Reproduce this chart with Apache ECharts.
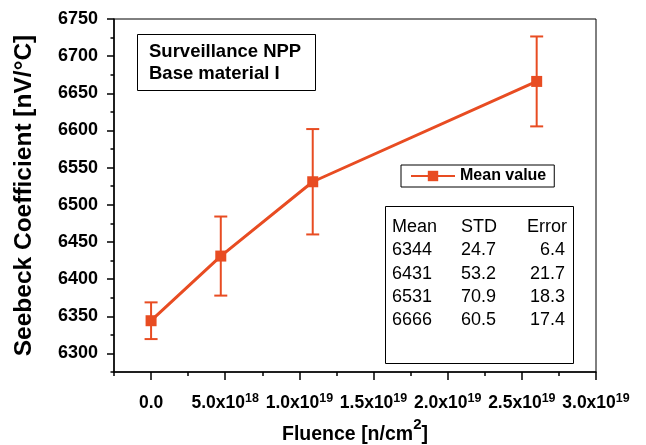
<!DOCTYPE html>
<html>
<head>
<meta charset="utf-8">
<script src="https://cdn.jsdelivr.net/npm/echarts@6/dist/echarts.min.js"></script>
<style>
  html, body { margin: 0; padding: 0; background: #fff; }
  #chart { width: 646px; height: 445px; }
</style>
</head>
<body>
<div id="chart"></div>
<script>
// data
const fluence = [0, 4.7e18, 1.09e19, 2.6e19];
const meanValues = [6344, 6431, 6531, 6666];
const stdValues = [24.7, 53.2, 70.9, 60.5];
const errorValues = [6.4, 21.7, 18.3, 17.4];

const xTickValues = [0, 5e18, 1e19, 1.5e19, 2e19, 2.5e19, 3e19];
const xTickMantissa = ['0.0', '5.0', '1.0', '1.5', '2.0', '2.5', '3.0'];
const xTickExponent = ['', '18', '19', '19', '19', '19', '19'];
const yTickValues = [6300, 6350, 6400, 6450, 6500, 6550, 6600, 6650, 6700, 6750];

const tableHeader = ['Mean', 'STD', 'Error'];
const infoLines = ['Surveillance NPP', 'Base material I'];
const seriesName = 'Mean value';

const FONT = 'Arial, "Liberation Sans", sans-serif';
const ORANGE = '#E84C22';

const chart = echarts.init(document.getElementById('chart'), null, { renderer: 'canvas' });

const xMin = -2.5e18, xMax = 3e19;
const yMin = 6275, yMax = 6750;

function xLabel(value) {
  const i = xTickValues.findIndex((v) => Math.abs(v - value) < 1e15);
  if (i < 0) return '';
  if (!xTickExponent[i]) return '{b|' + xTickMantissa[i] + '}';
  return '{b|' + xTickMantissa[i] + 'x10}{s|' + xTickExponent[i] + '}';
}

// table text
const colX = [392, 461, 567];
const rowY0 = 227, rowStep = 23.3;
const tableTexts = [];
tableHeader.forEach((h, c) => {
  tableTexts.push({ text: h, x: colX[c], y: rowY0, align: c === 2 ? 'right' : 'left' });
});
meanValues.forEach((m, r) => {
  const y = rowY0 + rowStep * (r + 1);
  tableTexts.push({ text: String(m), x: colX[0], y, align: 'left' });
  tableTexts.push({ text: stdValues[r].toFixed(1), x: colX[1], y, align: 'left' });
  tableTexts.push({ text: errorValues[r].toFixed(1), x: colX[2] - 2, y, align: 'right' });
});

const graphics = [
  {
    type: 'rect', z: 100,
    shape: { x: 137.5, y: 34.5, width: 178, height: 56 },
    style: { fill: '#fff', stroke: '#000', lineWidth: 1 }
  },
  ...infoLines.map((t, i) => ({
    type: 'text', z: 101,
    x: 149, y: 52 + i * 21.6,
    style: {
      text: t, font: 'bold 18.5px ' + FONT, fill: '#000',
      align: 'left', verticalAlign: 'middle', textAlign: 'left', textVerticalAlign: 'middle'
    }
  })),
  {
    type: 'rect', z: 100,
    shape: { x: 385.5, y: 206.5, width: 188, height: 157 },
    style: { fill: '#fff', stroke: '#000', lineWidth: 1 }
  },
  ...tableTexts.map((t) => ({
    type: 'text', z: 101,
    x: t.x, y: t.y,
    style: {
      text: t.text, font: '18px ' + FONT, fill: '#000',
      align: t.align, verticalAlign: 'middle', textAlign: t.align, textVerticalAlign: 'middle'
    }
  }))
];

const option = {
  animation: false,
  textStyle: { fontFamily: FONT, color: '#000' },
  grid: {
    left: 114, right: 50, top: 19, bottom: 73,
    containLabel: false, outerBoundsMode: 'none',
    show: true, borderColor: '#000', borderWidth: 1, backgroundColor: 'transparent'
  },
  legend: {
    data: [seriesName],
    left: 401, top: 165,
    padding: [3, 8, 3, 9],
    borderColor: '#000', borderWidth: 1, borderRadius: 0,
    backgroundColor: '#fff',
    itemWidth: 44, itemHeight: 13,
    textStyle: { fontSize: 16, fontWeight: 'bold', color: '#000', fontFamily: FONT }
  },
  xAxis: [
    {
      type: 'value', min: xMin, max: xMax, interval: 2.5e18,
      position: 'bottom',
      axisLine: { show: true, onZero: false, lineStyle: { color: '#000', width: 1.5 } },
      axisTick: { show: true, length: 4, lineStyle: { color: '#000', width: 1.5 } },
      axisLabel: { show: false },
      splitLine: { show: false }
    },
    {
      type: 'value', min: xMin, max: xMax,
      position: 'bottom',
      name: '{a|Fluence [n/cm}{s|2}{a|]}',
      nameLocation: 'middle', nameGap: 45,
      nameTextStyle: {
        rich: {
          a: { fontSize: 19.5, fontWeight: 'bold', fontFamily: FONT, color: '#000', lineHeight: 28, verticalAlign: 'bottom' },
          s: { fontSize: 15, fontWeight: 'bold', fontFamily: FONT, color: '#000', lineHeight: 15, verticalAlign: 'top' }
        }
      },
      axisLine: { show: false, onZero: false },
      axisTick: { show: true, length: 8, customValues: xTickValues, lineStyle: { color: '#000', width: 1.5 } },
      axisLabel: {
        show: true, margin: 20, customValues: xTickValues,
        hideOverlap: false, showMaxLabel: true, showMinLabel: true,
        formatter: xLabel,
        rich: {
          b: { fontSize: 17.5, fontWeight: 'bold', fontFamily: FONT, color: '#000', lineHeight: 22 },
          s: { fontSize: 12.5, fontWeight: 'bold', fontFamily: FONT, color: '#000', lineHeight: 12, verticalAlign: 'top' }
        }
      },
      splitLine: { show: false }
    }
  ],
  yAxis: [
    {
      type: 'value', min: yMin, max: yMax, interval: 25,
      position: 'left',
      axisLine: { show: true, onZero: false, lineStyle: { color: '#000', width: 1.5 } },
      axisTick: { show: true, length: 3.5, lineStyle: { color: '#000', width: 1.5 } },
      axisLabel: { show: false },
      splitLine: { show: false }
    },
    {
      type: 'value', min: yMin, max: yMax,
      position: 'left',
      name: 'Seebeck Coefficient [nV/°C]',
      nameLocation: 'middle', nameGap: 77,
      nameTextStyle: { fontSize: 24.5, fontWeight: 'bold', fontFamily: FONT, color: '#000' },
      axisLine: { show: false, onZero: false },
      axisTick: { show: true, length: 7, customValues: yTickValues, lineStyle: { color: '#000', width: 1.5 } },
      axisLabel: {
        show: true, margin: 16, customValues: yTickValues,
        formatter: (v) => String(v),
        fontSize: 18, fontWeight: 'bold', fontFamily: FONT, color: '#000'
      },
      splitLine: { show: false }
    }
  ],
  series: [
    {
      name: 'error',
      type: 'custom',
      xAxisIndex: 0, yAxisIndex: 0,
      z: 2,
      data: fluence.map((x, i) => [x, meanValues[i] - stdValues[i], meanValues[i] + stdValues[i]]),
      encode: { x: 0, y: [1, 2] },
      renderItem: (params, api) => {
        const lo = api.coord([api.value(0), api.value(1)]);
        const hi = api.coord([api.value(0), api.value(2)]);
        const hw = 6.5;
        const st = { stroke: ORANGE, lineWidth: 2 };
        return {
          type: 'group',
          children: [
            { type: 'line', shape: { x1: hi[0], y1: hi[1], x2: lo[0], y2: lo[1] }, style: st },
            { type: 'line', shape: { x1: hi[0] - hw, y1: hi[1], x2: hi[0] + hw, y2: hi[1] }, style: st },
            { type: 'line', shape: { x1: lo[0] - hw, y1: lo[1], x2: lo[0] + hw, y2: lo[1] }, style: st }
          ]
        };
      }
    },
    {
      name: seriesName,
      type: 'line',
      xAxisIndex: 0, yAxisIndex: 0,
      z: 3,
      data: fluence.map((x, i) => [x, meanValues[i]]),
      symbol: 'rect',
      symbolSize: 11,
      lineStyle: { color: ORANGE, width: 3 },
      itemStyle: { color: ORANGE }
    }
  ],
  graphic: graphics
};

chart.setOption(option);
</script>
</body>
</html>
